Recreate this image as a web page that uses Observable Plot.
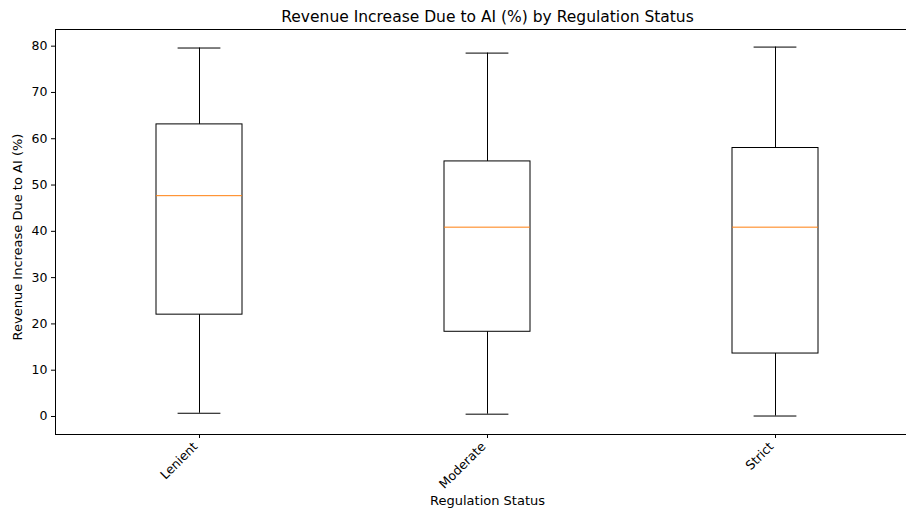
<!DOCTYPE html>
<html>
<head>
<meta charset="utf-8">
<script src="https://cdn.jsdelivr.net/npm/d3@7"></script>
<script src="https://cdn.jsdelivr.net/npm/@observablehq/plot@0.6"></script>
<style>
  html, body { margin: 0; padding: 0; background: #fff; overflow: hidden; }
  svg { display: block; }
</style>
</head>
<body>
<div id="chart"></div>
<script>
const categories = ["Lenient", "Moderate", "Strict"];
const whiskerLow = [0.7, 0.5, 0.1];
const q1 = [22.0, 18.3, 13.6];
const median = [47.7, 40.9, 40.9];
const q3 = [63.1, 55.1, 58.0];
const whiskerHigh = [79.6, 78.5, 79.8];
const yTicks = [0, 10, 20, 30, 40, 50, 60, 70, 80];

const rows = categories.map((c, i) => ({
  cat: c, lo: whiskerLow[i], q1: q1[i], med: median[i], q3: q3[i], hi: whiskerHigh[i]
}));

const chart = Plot.plot({
  width: 906,
  height: 510,
  marginLeft: 55,
  marginRight: -13,
  marginTop: 29,
  marginBottom: 76,
  style: { fontFamily: "DejaVu Sans", fontSize: "12.5px", color: "#000", background: "#fff", overflow: "visible" },
  x: { type: "band", domain: categories, paddingInner: 0.7, paddingOuter: 0.35, label: null },
  y: { domain: [-3.89, 83.6], label: null },
  marks: [
    Plot.axisY({ ticks: yTicks, tickSize: 4, tickPadding: 4, label: null, fontSize: 12.5 }),
    Plot.axisX({ tickSize: 4, text: null, label: null }),
    Plot.axisX({ tickSize: 0, tickRotate: -45, tickPadding: 10, dx: -4, label: null, fontSize: 12.5 }),
    Plot.ruleX(rows, { x: "cat", y1: "q3", y2: "hi", stroke: "#000", strokeWidth: 1 }),
    Plot.ruleX(rows, { x: "cat", y1: "lo", y2: "q1", stroke: "#000", strokeWidth: 1 }),
    Plot.tickY(rows, { x: "cat", y: "hi", stroke: "#000", strokeWidth: 1, insetLeft: 21.6, insetRight: 21.6 }),
    Plot.tickY(rows, { x: "cat", y: "lo", stroke: "#000", strokeWidth: 1, insetLeft: 21.6, insetRight: 21.6 }),
    Plot.barY(rows, { x: "cat", y1: "q1", y2: "q3", fill: "none", stroke: "#000", strokeWidth: 1 }),
    Plot.tickY(rows, { x: "cat", y: "med", stroke: "#ff7f0e", strokeWidth: 1 }),
    Plot.frame({ stroke: "#000", strokeWidth: 1 }),
    Plot.text(["Revenue Increase Due to AI (%) by Regulation Status"], { frameAnchor: "top", lineAnchor: "middle", textAnchor: "middle", dy: -12, fontSize: 15.5, fill: "#000" }),
    Plot.text(["Revenue Increase Due to AI (%)"], { frameAnchor: "left", lineAnchor: "middle", textAnchor: "middle", rotate: -90, dx: -38, dy: 5, fontSize: 13, fill: "#000" }),
    Plot.text(["Regulation Status"], { frameAnchor: "bottom", lineAnchor: "middle", textAnchor: "middle", dy: 66, fontSize: 13, fill: "#000" })
  ]
});
document.getElementById("chart").appendChild(chart);
</script>
</body>
</html>
